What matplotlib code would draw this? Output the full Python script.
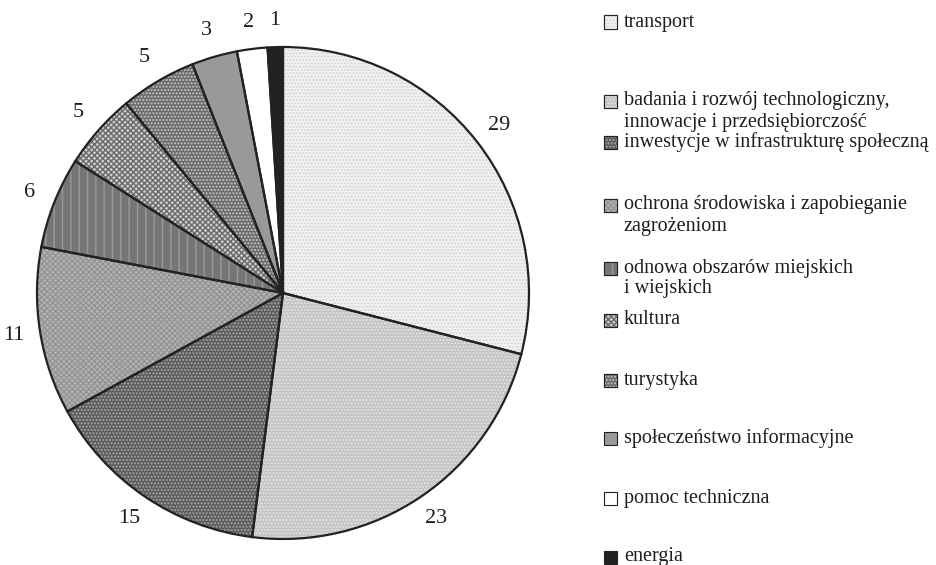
import matplotlib
matplotlib.use("Agg")
import matplotlib.pyplot as plt
from matplotlib.patches import Rectangle

plt.rcParams['font.family'] = ['Liberation Serif', 'DejaVu Serif']
plt.rcParams['hatch.linewidth'] = 1.0

# data
categories = ['transport',
              'badania i rozwój technologiczny,\ninnowacje i przedsiębiorczość',
              'inwestycje w infrastrukturę społeczną',
              'ochrona środowiska i zapobieganie\nzagrożeniom',
              'odnowa obszarów miejskich\ni wiejskich',
              'kultura',
              'turystyka',
              'społeczeństwo informacyjne',
              'pomoc techniczna',
              'energia']
values = [29, 23, 15, 11, 6, 5, 5, 3, 2, 1]

# look of each slice: face colour, hatch, hatch colour
faces = ['#f2f2f2', '#c4c4c4', '#5c5c5c', '#b4b4b4', '#767676',
         '#cccccc', '#6a6a6a', '#999999', '#ffffff', '#222222']
hatches = ['.....', '.....', '.....', 'xxxxxx', '||', 'xxxxxx', '.....', None, None, None]
hcolors = ['#d4d4d4', '#e4e4e4', '#a8a8a8', '#949494', '#9a9a9a',
           '#6a6a6a', '#c8c8c8', '#999999', '#ffffff', '#222222']

W, H = 936, 565
fig = plt.figure(figsize=(W / 100, H / 100), dpi=100)

cx, cy, r = 283, 293, 246
ax = fig.add_axes([(cx - r) / W, (H - cy - r) / H, 2 * r / W, 2 * r / H])

wedges, texts = ax.pie(values, labels=[str(v) for v in values], startangle=90,
                       counterclock=False, labeldistance=1.11,
                       colors=faces, wedgeprops=dict(linewidth=0),
                       textprops=dict(fontsize=16, color='#1e1e1e'))
for t in texts:
    t.set_horizontalalignment('center')
for w, h, hc in zip(wedges, hatches, hcolors):
    if h:
        w.set_hatch(h)
        w.set_edgecolor(hc)
        w.set_linewidth(0)

# outlines on top
ax.pie(values, startangle=90, counterclock=False,
       wedgeprops=dict(fill=False, edgecolor='#222222', linewidth=1.6))
ax.set_xlim(-1, 1)
ax.set_ylim(-1, 1)
ax.set_aspect('equal')

# legend drawn by hand
row_y = [22, 101, 142, 205, 268, 320, 380, 438, 498, 557]
box_x, text_x, box_s = 604, 624, 13
for i, lab in enumerate(categories):
    y = row_y[i]
    x0, y0 = box_x / W, (H - y - box_s / 2) / H
    fig.patches.append(Rectangle((x0, y0), box_s / W, box_s / H,
                                 transform=fig.transFigure, facecolor=faces[i],
                                 edgecolor='#222222', linewidth=0.8))
    if hatches[i]:
        fig.patches.append(Rectangle((x0, y0), box_s / W, box_s / H,
                                     transform=fig.transFigure, facecolor=faces[i],
                                     edgecolor=hcolors[i], linewidth=0, hatch=hatches[i]))
        fig.patches.append(Rectangle((x0, y0), box_s / W, box_s / H,
                                     transform=fig.transFigure, fill=False,
                                     edgecolor='#222222', linewidth=0.8))
    lines = lab.split('\n')
    for k, line in enumerate(lines):
        fig.text(text_x / W, (H - y - 21 * k) / H, line, fontsize=14.5,
                 color='#1e1e1e', va='center', ha='left')

fig.savefig('out.png', dpi=100)
